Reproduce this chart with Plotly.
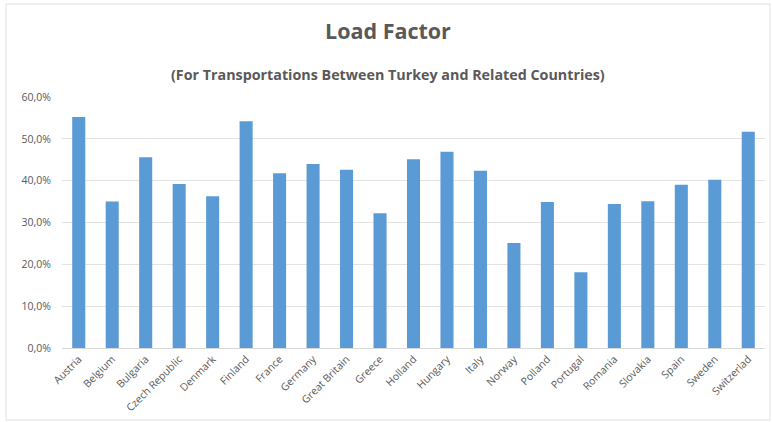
import plotly.graph_objects as go

countries = ["Austria", "Belgium", "Bulgaria", "Czech Republic", "Denmark", "Finland",
             "France", "Germany", "Great Britain", "Greece", "Holland", "Hungary",
             "Italy", "Norway", "Polland", "Portugal", "Romania", "Slovakia", "Spain",
             "Sweden", "Switzerlad"]
load_factor = [55.2, 35.0, 45.6, 39.2, 36.3, 54.2, 41.8, 44.0, 42.6, 32.2, 45.1,
               46.9, 42.4, 25.1, 34.9, 18.1, 34.4, 35.1, 39.0, 40.2, 51.7]
y_ticks = [0, 10, 20, 30, 40, 50, 60]
y_tick_labels = ["0,0%", "10,0%", "20,0%", "30,0%", "40,0%", "50,0%", "60,0%"]

W, H = 772, 422
ml, mr, mt, mb = 62, 7, 97, 74
pw, ph = W - ml - mr, H - mt - mb

def px_x(x):
    return (x - ml) / pw

def px_y(y):
    return (H - mb - y) / ph

font_family = "'Open Sans', Lato, sans-serif"
grey = "#595959"

fig = go.Figure(go.Bar(
    x=countries, y=load_factor, marker_color="#5B9BD5", marker_line_width=0,
))

fig.update_layout(
    width=W, height=H,
    margin=dict(l=ml, r=mr, t=mt, b=mb),
    paper_bgcolor="white", plot_bgcolor="white",
    bargap=0.61,
    showlegend=False,
    font=dict(family=font_family, color=grey),
    xaxis=dict(tickangle=-45, tickfont=dict(size=10.5, color=grey), showgrid=False,
               showline=True, linecolor="#d9d9d9", linewidth=1, ticks=""),
    yaxis=dict(range=[0, 60], tickvals=y_ticks, ticktext=y_tick_labels,
               tickfont=dict(size=10.5, color=grey), showgrid=True, gridcolor="#e3e3e3",
               gridwidth=1, zeroline=False, showline=False, ticks="",
               ticklabelstandoff=10),
    annotations=[
        dict(text="<b>Load Factor</b>", x=0.5 * (px_x(6) + px_x(770)), y=px_y(30),
             xref="paper", yref="paper", showarrow=False, xanchor="center", yanchor="middle",
             font=dict(size=21.5, color=grey, family=font_family)),
        dict(text="<b>(For Transportations Between Turkey and Related Countries)</b>",
             x=0.5 * (px_x(6) + px_x(770)), y=px_y(74), xref="paper", yref="paper",
             showarrow=False, xanchor="center", yanchor="middle",
             font=dict(size=14.3, color=grey, family=font_family)),
    ],
    shapes=[
        dict(type="rect", xref="paper", yref="paper", x0=px_x(6), x1=px_x(770),
             y0=px_y(420), y1=px_y(4), line=dict(color="#e0e0e0", width=1), layer="below"),
    ],
)

fig.write_html("out.html")
